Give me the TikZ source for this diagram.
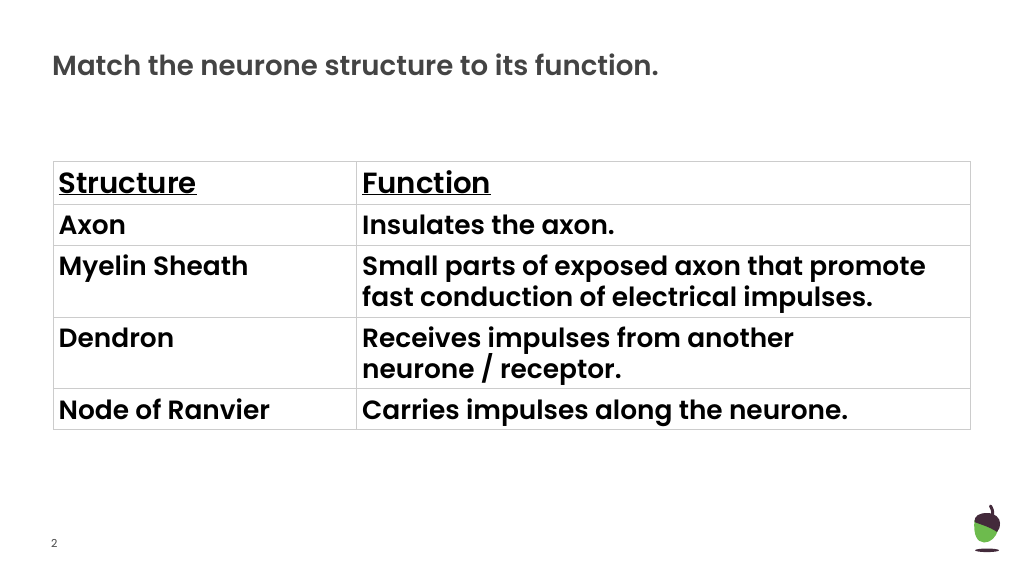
\documentclass[tikz,border=0pt]{standalone}
\usepackage{fontspec}
\setmainfont{Poppins}[BoldFont=Poppins SemiBold]
\definecolor{titlegrey}{HTML}{444444}
\definecolor{gridgrey}{HTML}{CCCCCC}
\definecolor{acornbrown}{HTML}{432A3B}
\definecolor{acorngreen}{HTML}{6DBB4D}
\tikzset{
  cell/.style={anchor=base west,inner sep=0pt,font=\fontsize{26.4}{26.4}\selectfont\bfseries,text=black},
  head/.style={cell,font=\fontsize{29.2}{29.2}\selectfont\bfseries},
  grid/.style={draw=gridgrey,line width=1pt}
}
\begin{document}
\begin{tikzpicture}[x=1pt,y=-1pt]
  \useasboundingbox (0,0) rectangle (1024,576);
  \node[anchor=base west,inner sep=0pt,font=\fontsize{27.6}{27.6}\selectfont\bfseries,text=titlegrey] (title) at (52,75.5) {Match the neurone structure to its function.};

  \draw[grid] (53,161) rectangle (970,429);
  \draw[grid] (53,204) -- (970,204);
  \draw[grid] (53,245) -- (970,245);
  \draw[grid] (53,317) -- (970,317);
  \draw[grid] (53,388) -- (970,388);
  \draw[grid] (356,161) -- (356,429);

  \node[head] (structure) at (58.5,193) {\underline{Structure}};
  \node[head] (function) at (362,193) {\underline{Function}};
  \node[cell] (axon) at (58.5,234) {Axon};
  \node[cell] (insulates) at (362,234) {Insulates the axon.};
  \node[cell] (myelin) at (58.5,275) {Myelin Sheath};
  \node[cell] (small) at (362,275) {Small parts of exposed axon that promote};
  \node[cell] (fast) at (362,306) {fast conduction of electrical impulses.};
  \node[cell] (dendron) at (58.5,347) {Dendron};
  \node[cell] (receives) at (362,347) {Receives impulses from another};
  \node[cell] (neurone) at (362,378) {neurone / receptor.};
  \node[cell] (ranvier) at (58.5,419) {Node of Ranvier};
  \node[cell] (carries) at (362,419) {Carries impulses along the neurone.};

  \node[anchor=base west,inner sep=0pt,font=\fontsize{11}{11}\selectfont,text=titlegrey] (page) at (51,547.5) {2};

  % acorn
  \fill[acorngreen] (974.5,520) .. controls (973,535) and (977,542) .. (984,542.5) .. controls (991,542.5) and (996,537) .. (998,530) -- cycle;
  \fill[acornbrown] (974.5,522) .. controls (974,516) and (979,513) .. (987,513) .. controls (995,513) and (1000,518) .. (1000,523) .. controls (1000,527) and (999,530) .. (997,532) .. controls (990,527) and (982,525) .. (974.5,522) -- cycle;
  \draw[acornbrown,line width=3pt,line cap=round] (990.5,506) .. controls (992,508) and (993,511) .. (992.5,515);
  \fill[acornbrown] (987,550.3) ellipse (12 and 1.8);
\end{tikzpicture}
\end{document}
